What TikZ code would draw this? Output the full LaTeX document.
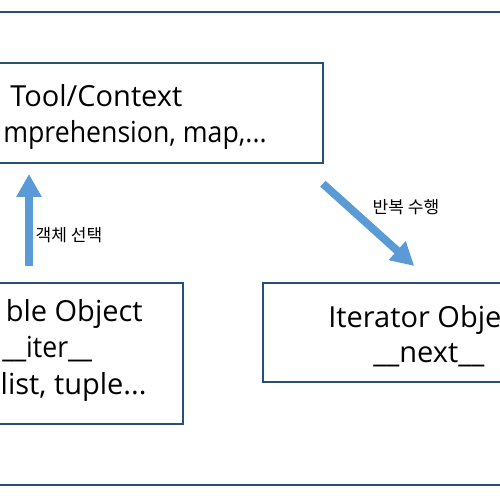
\documentclass[tikz,border=0pt]{standalone}
\usepackage{fontspec}
\setmainfont{Open Sans}
\newfontfamily\kofont{Noto Sans CJK KR}
\usepackage{xcolor}
\usepackage{tikz}
\usetikzlibrary{calc, arrows.meta, positioning}
\definecolor{frameblue}{RGB}{38,80,124}
\definecolor{arrowblue}{RGB}{91,155,213}

\begin{document}
\begin{tikzpicture}[
  every node/.style={font=\fontsize{16.5}{20}\selectfont, inner sep=0pt},
  objbox/.style={draw=frameblue, line width=1.1pt, rectangle},
  narrowtext/.style={xscale=0.92, transform shape},
  fatarrow/.style={draw=arrowblue, line width=4.5pt, -{Triangle[length=4.6mm, width=4.8mm]}},
  steplabel/.style={font=\kofont\fontsize{9.7}{11}\selectfont}
]
\useasboundingbox (0,0) rectangle (10,10);
\clip (0,0) rectangle (10,10);
% outer frame
\draw[frameblue, line width=1.1pt] (-1,0.30) rectangle (11,9.76);
% boxes
\node[objbox, minimum width=9.04cm, minimum height=2cm] (toolbox) at (1.94,7.74) {};
\node[objbox, minimum width=5.52cm, minimum height=2.82cm] (iterable) at (0.90,2.93) {};
\node[objbox, minimum width=6.6cm, minimum height=1.98cm] (iterator) at (8.56,3.35) {};
% box texts
\node[anchor=base west] (tool-a) at (0.20,7.86) {Tool/Context};
\node[anchor=base west, narrowtext] (tool-b) at (0.06,7.14) {mprehension, map,...};
\node[anchor=base east] (iterable-a) at (2.86,3.56) {ble Object};
\node[anchor=base west, narrowtext] (iterable-b) at (0.04,2.84) {\_\_iter\_\_};
\node[anchor=base east] (iterable-c) at (2.94,2.10) {list, tuple...};
\node[anchor=base west] (iterator-a) at (6.56,3.44) {Iterator Obje};
\node[anchor=base west] (iterator-b) at (7.46,2.74) {\_\_next\_\_};
% arrows
\coordinate (up-x) at (0.58,0);
\draw[fatarrow, shorten <=3.2mm, shorten >=2mm] (iterable.north -| up-x) -- (toolbox.south -| up-x);
\draw[fatarrow, shorten <=5.9mm, shorten >=4.8mm]
  ([xshift=-0.46cm]toolbox.south east) -- ([xshift=3.4cm]iterator.north west);
\node[steplabel] (select-label) at (1.38,5.30) {객체 선택};
\node[steplabel] (repeat-label) at (8.12,5.86) {반복 수행};
\end{tikzpicture}
\end{document}
